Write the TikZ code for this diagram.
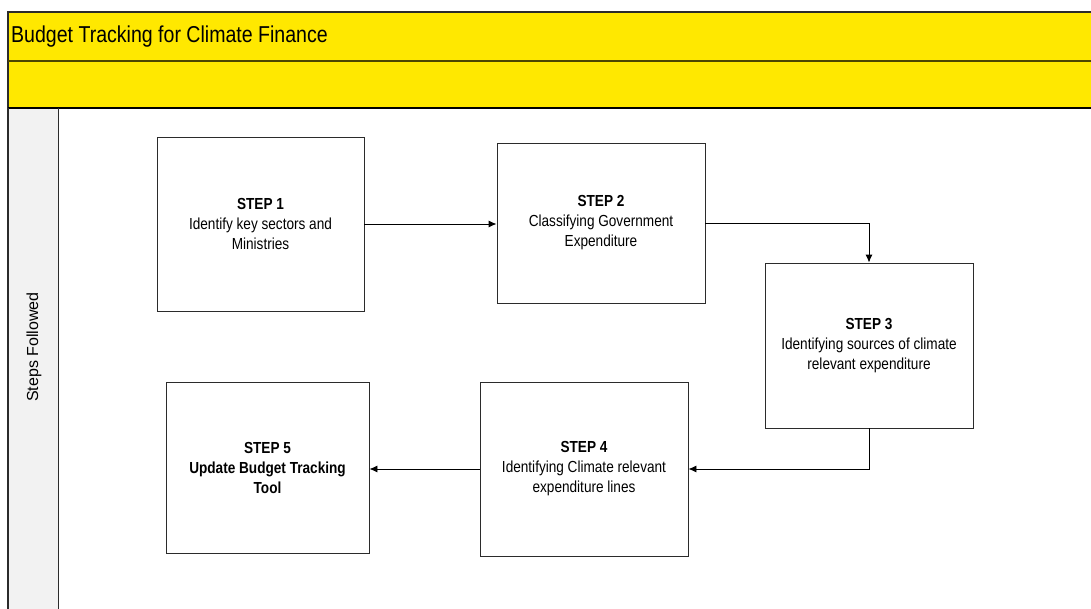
\documentclass[tikz,border=0pt]{standalone}
\usepackage{fontspec}
\setmainfont{Liberation Sans}
\newfontfamily\narrowfont[FakeStretch=0.85]{Liberation Sans}
\usetikzlibrary{arrows.meta}
\definecolor{hdryellow}{HTML}{FFE800}
\definecolor{lanegrey}{HTML}{F2F2F2}
\definecolor{edgegrey}{HTML}{2B2B2B}
\tikzset{
  stepbox/.style={draw=edgegrey, line width=0.9pt, fill=white, align=center, inner sep=0pt,
    font=\narrowfont\fontsize{16}{20}\selectfont},
  flow/.style={draw=black, line width=0.9pt, -{Latex[length=8pt,width=7pt]}},
}
\begin{document}
\begin{tikzpicture}[x=1pt,y=-1pt]
\useasboundingbox (0,0) rectangle (1091,608);
\fill[white] (0,0) rectangle (1091,608);
% header bands
\fill[hdryellow] (8,12) rectangle (1095,108);
\draw[edgegrey, line width=1.6pt] (1095,12) -- (8,12) -- (8,612);
\draw[black!70!hdryellow, line width=1.6pt] (8,61) -- (1095,61);
\draw[black, line width=1.6pt] (8,108) -- (1095,108);
% lane label column
\fill[lanegrey] (8.8,108.8) rectangle (58,612);
\draw[edgegrey, line width=0.9pt] (58,108) -- (58,612);
\draw[edgegrey, line width=1.6pt] (8,108) -- (8,612);
\node[anchor=west, inner sep=0pt, font=\narrowfont\fontsize{23}{26}\selectfont] (title) at (11,37) {Budget Tracking for Climate Finance};
\node[rotate=90, inner sep=0pt, font=\fontsize{16}{18}\selectfont] (lane) at (34,347) {Steps Followed};
% steps
\node[stepbox, minimum width=207pt, minimum height=174pt] (s1) at (260.5,224) {\textbf{STEP 1}\\Identify key sectors and\\Ministries};
\node[stepbox, minimum width=208pt, minimum height=160pt] (s2) at (601,223) {\textbf{STEP 2}\\Classifying Government\\Expenditure};
\node[stepbox, minimum width=208pt, minimum height=165pt] (s3) at (869,345.5) {\textbf{STEP 3}\\Identifying sources of climate\\relevant expenditure};
\node[stepbox, minimum width=208pt, minimum height=174pt] (s4) at (584,469) {\textbf{STEP 4}\\Identifying Climate relevant\\expenditure lines};
\node[stepbox, minimum width=203pt, minimum height=171pt] (s5) at (267.5,467.5) {\textbf{STEP 5}\\\textbf{Update Budget Tracking}\\\textbf{Tool}};
% connectors
\draw[flow] (s1.east) -- (s1.east -| s2.west);
\draw[flow] (s2.east) -| (s3.north);
\draw[flow] (s3.south) |- (s4.east);
\draw[flow] (s4.west) -- (s4.west -| s5.east);
\end{tikzpicture}
\end{document}
